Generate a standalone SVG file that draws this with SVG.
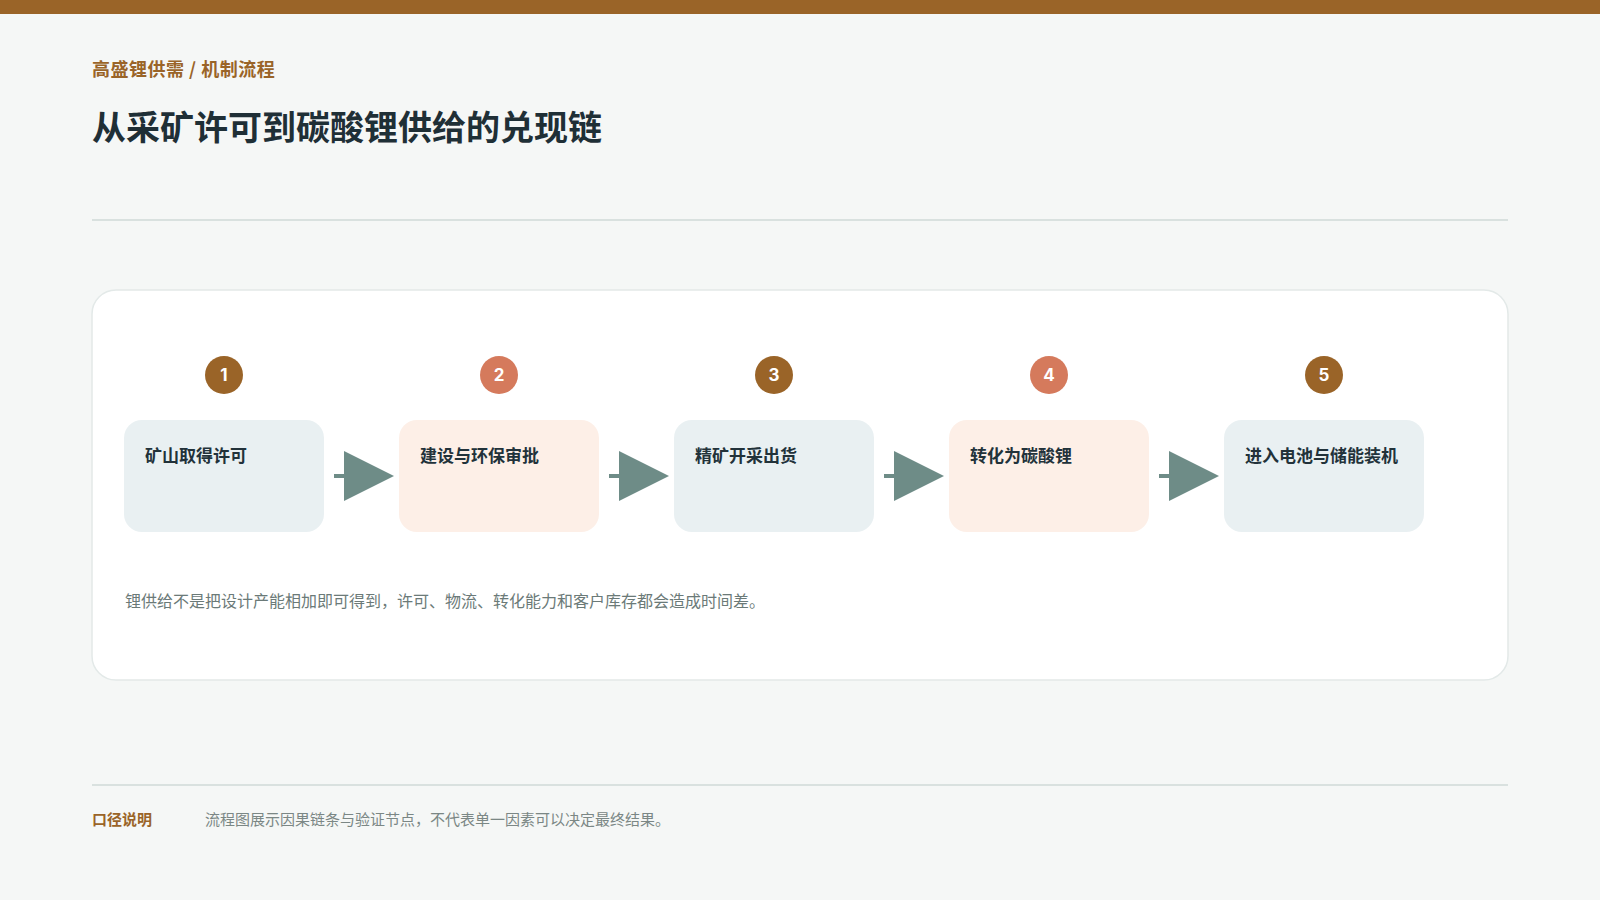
<svg xmlns="http://www.w3.org/2000/svg" width="1600" height="900" viewBox="0 0 1600 900">
<defs>
<style>
.cjk{font-family:"Noto Sans CJK SC","Noto Sans",sans-serif;}
.kicker{font-size:18px;font-weight:700;fill:#9a6428;}
.title{font-size:34px;font-weight:700;fill:#1f2f36;}
.rule{stroke:#d9e1df;stroke-width:2;}
.card{fill:#ffffff;stroke:#e3e9e8;stroke-width:1.5;}
.boxA{fill:#e9f0f2;}
.boxB{fill:#fdefe7;}
.label{font-size:17px;font-weight:700;fill:#22323a;}
.numA{fill:#9a6428;}
.numB{fill:#d57a5c;}
.num{font-family:Inter,"Liberation Sans",sans-serif;font-size:17px;font-weight:700;fill:#ffffff;text-anchor:middle;}
.conn{stroke:#6e8c87;stroke-width:4;fill:none;}
.head{fill:#6e8c87;}
.note{font-size:16px;fill:#6b7a78;}
.foot{font-size:15px;fill:#7b8785;}
.footlab{font-size:15px;font-weight:700;fill:#9a6428;}
</style>
<path id="arrowhead" class="head" d="M0,-25 L50,0 L0,25 Z"/>
</defs>
<rect x="0" y="0" width="1600" height="900" fill="#f5f7f6"/>
<rect x="0" y="0" width="1600" height="14" fill="#9a6428"/>
<text class="cjk kicker" x="92" y="76" letter-spacing="0.5">高盛锂供需 / 机制流程</text>
<text class="cjk title" x="92" y="140">从采矿许可到碳酸锂供给的兑现链</text>
<line class="rule" x1="92" y1="220" x2="1508" y2="220"/>
<rect class="card" x="92" y="290" width="1416" height="390" rx="24"/>
<g id="connectors">
<line class="conn" x1="334" y1="476" x2="352" y2="476"/>
<use href="#arrowhead" x="344" y="476"/>
<line class="conn" x1="609" y1="476" x2="627" y2="476"/>
<use href="#arrowhead" x="619" y="476"/>
<line class="conn" x1="884" y1="476" x2="902" y2="476"/>
<use href="#arrowhead" x="894" y="476"/>
<line class="conn" x1="1159" y1="476" x2="1177" y2="476"/>
<use href="#arrowhead" x="1169" y="476"/>
</g>
<g id="node1">
<circle class="numA" cx="224" cy="375" r="19"/>
<text class="num" x="224" y="381">1</text>
<rect class="boxA" x="124" y="420" width="200" height="112" rx="18"/>
<text class="cjk label" x="145" y="462">矿山取得许可</text>
</g>
<g id="node2">
<circle class="numB" cx="499" cy="375" r="19"/>
<text class="num" x="499" y="381">2</text>
<rect class="boxB" x="399" y="420" width="200" height="112" rx="18"/>
<text class="cjk label" x="420" y="462">建设与环保审批</text>
</g>
<g id="node3">
<circle class="numA" cx="774" cy="375" r="19"/>
<text class="num" x="774" y="381">3</text>
<rect class="boxA" x="674" y="420" width="200" height="112" rx="18"/>
<text class="cjk label" x="695" y="462">精矿开采出货</text>
</g>
<g id="node4">
<circle class="numB" cx="1049" cy="375" r="19"/>
<text class="num" x="1049" y="381">4</text>
<rect class="boxB" x="949" y="420" width="200" height="112" rx="18"/>
<text class="cjk label" x="970" y="462">转化为碳酸锂</text>
</g>
<g id="node5">
<circle class="numA" cx="1324" cy="375" r="19"/>
<text class="num" x="1324" y="381">5</text>
<rect class="boxA" x="1224" y="420" width="200" height="112" rx="18"/>
<text class="cjk label" x="1245" y="462">进入电池与储能装机</text>
</g>
<text class="cjk note" x="125" y="607">锂供给不是把设计产能相加即可得到，许可、物流、转化能力和客户库存都会造成时间差。</text>
<line class="rule" x1="92" y1="785" x2="1508" y2="785"/>
<text class="cjk footlab" x="92" y="825">口径说明</text>
<text class="cjk foot" x="205" y="825">流程图展示因果链条与验证节点，不代表单一因素可以决定最终结果。</text>
</svg>
